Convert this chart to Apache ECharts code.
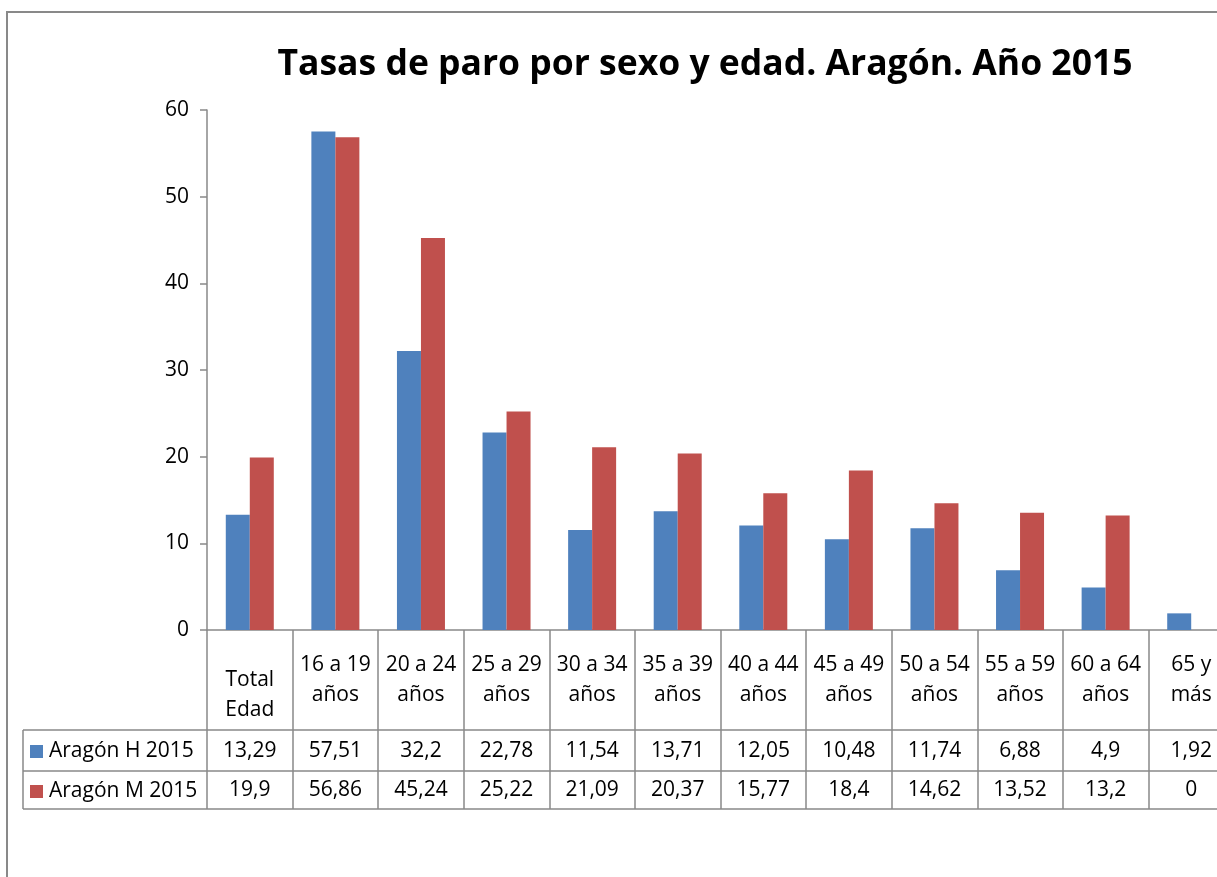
<!DOCTYPE html>
<html>
<head>
<meta charset="utf-8">
<script src="https://cdn.jsdelivr.net/npm/echarts@6/dist/echarts.min.js"></script>
<style>
html,body{margin:0;padding:0;background:#fff;overflow:hidden;}
#chart{width:1250px;height:877px;}
</style>
</head>
<body>
<div id="chart"></div>
<script>
var categories = ['\nTotal\nEdad', '16 a 19\naños', '20 a 24\naños', '25 a 29\naños', '30 a 34\naños', '35 a 39\naños', '40 a 44\naños', '45 a 49\naños', '50 a 54\naños', '55 a 59\naños', '60 a 64\naños', '65 y\nmás'];
var seriesNames = ['Aragón H 2015', 'Aragón M 2015'];
var valuesH = [13.29, 57.51, 32.2, 22.78, 11.54, 13.71, 12.05, 10.48, 11.74, 6.88, 4.9, 1.92];
var valuesM = [19.9, 56.86, 45.24, 25.22, 21.09, 20.37, 15.77, 18.4, 14.62, 13.52, 13.2, 0];
var yTicks = {min: 0, max: 60, interval: 10};

var FONT = 'Open Sans';
var FS = 21;
var LINE = '#898989';
var BLUE = '#4F81BD';
var RED = '#C0504D';
function fmt(v){ return String(v).replace('.', ','); }

var chart = echarts.init(document.getElementById('chart'));
var gridTop = 110, gridH = 520, gridLeft = 207;

var hiddenAxis = {
  type: 'category', position: 'bottom', gridIndex: 0,
  axisLine: {show: false}, axisTick: {show: false}, splitLine: {show: false}
};

chart.setOption({
  animation: false,
  title: {
    text: 'Tasas de paro por sexo y edad. Aragón. Año 2015',
    left: 700, top: 42, textAlign: 'center',
    textStyle: {fontFamily: FONT, fontWeight: 'bold', fontSize: 35.5, color: '#000'}
  },
  grid: {left: gridLeft, top: gridTop, height: gridH, width: 1027, containLabel: false},
  xAxis: [
    {
      type: 'category', data: categories,
      axisLine: {show: true, lineStyle: {color: LINE, width: 1.5}},
      axisTick: {show: true, length: 179, lineStyle: {color: LINE, width: 1.5}},
      axisLabel: {interval: 0, margin: 50, verticalAlign: 'middle', lineHeight: 30,
        fontFamily: FONT, fontSize: FS, color: '#000'}
    },
    Object.assign({}, hiddenAxis, {
      data: valuesH.map(fmt),
      axisLabel: {interval: 0, margin: 121, verticalAlign: 'middle', fontFamily: FONT, fontSize: FS, color: '#000'}
    }),
    Object.assign({}, hiddenAxis, {
      data: valuesM.map(fmt),
      axisLabel: {interval: 0, margin: 160, verticalAlign: 'middle', fontFamily: FONT, fontSize: FS, color: '#000'}
    })
  ],
  yAxis: {
    type: 'value', min: yTicks.min, max: yTicks.max, interval: yTicks.interval,
    axisLine: {show: true, lineStyle: {color: LINE, width: 1.5}},
    axisTick: {show: true, inside: false, length: 7, lineStyle: {color: LINE, width: 1.5}},
    axisLabel: {margin: 18, fontFamily: FONT, fontSize: FS, color: '#000'},
    splitLine: {show: false}
  },
  series: [
    {name: seriesNames[0], type: 'bar', data: valuesH, barWidth: 24, barGap: '0%', itemStyle: {color: BLUE}},
    {name: seriesNames[1], type: 'bar', data: valuesM, barWidth: 24, barGap: '0%', itemStyle: {color: RED}}
  ],
  graphic: [
    {type: 'rect', silent: true, shape: {x: 7, y: 12, width: 1400, height: 1000},
      style: {fill: 'none', stroke: LINE, lineWidth: 2}},
    {type: 'line', shape: {x1: 23, y1: 730, x2: 1250, y2: 730}, style: {stroke: LINE, lineWidth: 1.5}},
    {type: 'line', shape: {x1: 23, y1: 771, x2: 1250, y2: 771}, style: {stroke: LINE, lineWidth: 1.5}},
    {type: 'line', shape: {x1: 23, y1: 809, x2: 1250, y2: 809}, style: {stroke: LINE, lineWidth: 1.5}},
    {type: 'line', shape: {x1: 23, y1: 730, x2: 23, y2: 809}, style: {stroke: LINE, lineWidth: 1.5}},
    {type: 'rect', shape: {x: 30, y: 745, width: 13, height: 13}, style: {fill: BLUE}},
    {type: 'rect', shape: {x: 30, y: 785, width: 13, height: 13}, style: {fill: RED}},
    {type: 'text', x: 49, y: 751, style: {text: seriesNames[0], fontFamily: FONT, fontSize: FS, fill: '#000', verticalAlign: 'middle'}},
    {type: 'text', x: 49, y: 791, style: {text: seriesNames[1], fontFamily: FONT, fontSize: FS, fill: '#000', verticalAlign: 'middle'}}
  ]
});
</script>
</body>
</html>
